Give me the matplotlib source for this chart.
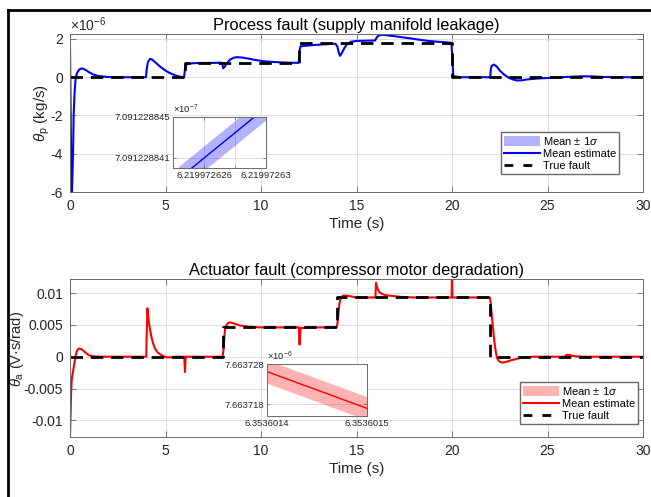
import numpy as np
import matplotlib
matplotlib.use("Agg")
import matplotlib.pyplot as plt
from matplotlib.lines import Line2D
from matplotlib.patches import Patch

plt.rcParams['font.family'] = ['Liberation Sans', 'DejaVu Sans']
plt.rcParams['mathtext.fontset'] = 'custom'
plt.rcParams['mathtext.rm'] = 'Liberation Sans'
plt.rcParams['mathtext.it'] = 'Liberation Sans:italic'
plt.rcParams['mathtext.bf'] = 'Liberation Sans:bold'
plt.rcParams['axes.unicode_minus'] = False

# ---------------- data: process fault (kg/s) ----------------
t_proc = [0, 0.03, 0.07, 0.1, 0.13, 0.16, 0.19, 0.24, 0.3, 0.38, 0.48, 0.6, 0.7, 0.85, 1.0,
          1.2, 1.5, 2.0, 3.0, 3.98, 4.02, 4.08, 4.19, 4.3, 4.5, 4.7, 4.95, 5.2, 5.5, 5.76,
          5.97, 6.02, 6.06, 6.12, 6.22, 6.4, 6.8, 7.5, 7.92, 7.97, 8.02, 8.1, 8.2, 8.38,
          8.55, 8.73, 9.0, 9.25, 9.6, 10.1, 10.6, 11.2, 11.97, 12.02, 12.07, 12.5, 13.0,
          13.5, 13.9, 14.0, 14.07, 14.14, 14.25, 14.38, 14.5, 14.7, 15.0, 15.5, 15.97,
          16.04, 16.12, 16.25, 16.4, 16.7, 17.1, 17.45, 17.9, 18.3, 18.75, 19.2, 19.6,
          19.97, 20.02, 20.07, 20.5, 21.0, 21.5, 22.0, 22.03, 22.08, 22.2, 22.35, 22.5,
          22.75, 23.0, 23.2, 23.4, 23.65, 23.9, 24.2, 24.6, 25.0, 25.3, 25.8, 26.3, 26.9,
          27.4, 28.0, 29.0, 30.0]
mean_proc_e6 = [1.55, -1.5, -5.2, -6.0, -5.0, -4.0, -2.0, -0.8, 0.0, 0.25, 0.4, 0.46, 0.44,
                0.36, 0.26, 0.15, 0.06, 0.01, 0.0, 0.0, 0.45, 0.8, 0.96, 0.92, 0.75, 0.57,
                0.38, 0.23, 0.1, 0.03, 0.0, 0.4, 0.62, 0.68, 0.709, 0.73, 0.745, 0.75, 0.76,
                0.72, 0.47, 0.55, 0.72, 0.92, 1.01, 1.05, 1.03, 0.99, 0.92, 0.84, 0.8, 0.77,
                0.75, 1.4, 1.62, 1.66, 1.7, 1.73, 1.75, 1.6, 1.3, 1.12, 1.3, 1.55, 1.72, 1.85,
                1.9, 1.91, 1.92, 2.05, 2.15, 2.21, 2.22, 2.18, 2.13, 2.08, 2.02, 1.96, 1.9,
                1.86, 1.83, 1.8, 0.9, 0.05, 0.0, 0.0, 0.0, 0.0, 0.4, 0.6, 0.66, 0.55, 0.35,
                0.12, -0.04, -0.12, -0.17, -0.16, -0.12, -0.09, -0.06, -0.04, -0.02, 0.0,
                0.03, 0.05, 0.04, 0.01, 0.0, 0.0]
sigma_proc = 1.2e-16
t_true_proc = [0, 6, 12, 20, 30]
true_proc_e6 = [0.0, 0.75, 1.8, 0.0, 0.0]

# inset (process)
inset_proc_t = [6.219972624, 6.21997263]
inset_proc_mean = [7.0912288385e-7, 7.0912288459e-7]
inset_proc_xlim = [6.219972624, 6.21997263]
inset_proc_ylim = [7.09122884e-7, 7.091228845e-7]
inset_proc_xticks = [6.219972626, 6.219972628, 6.21997263]
inset_proc_xlabels = ['6.219972626', '', '6.21997263']
inset_proc_yticks = [7.091228841e-7, 7.091228845e-7]
inset_proc_ylabels = ['7.091228841', '7.091228845']

# ---------------- data: actuator fault (V*s/rad) ----------------
t_act = [0, 0.03, 0.06, 0.09, 0.13, 0.17, 0.22, 0.26, 0.3, 0.35, 0.42, 0.49, 0.58, 0.7, 0.83,
         0.96, 1.1, 1.3, 1.6, 2.0, 3.0, 3.99, 4.02, 4.05, 4.09, 4.14, 4.2, 4.28, 4.36, 4.45,
         4.58, 4.71, 4.88, 5.06, 5.25, 5.5, 5.98, 6.0, 6.02, 6.04, 6.06, 7.0, 7.99, 8.04,
         8.08, 8.12, 8.2, 8.28, 8.38, 8.5, 8.7, 8.9, 9.15, 9.42, 10.0, 11.0, 11.98, 12.0,
         12.02, 12.04, 12.07, 13.0, 13.96, 14.0, 14.05, 14.1, 14.17, 14.3, 14.48, 14.66,
         15.0, 15.5, 15.99, 16.02, 16.07, 16.14, 16.22, 16.32, 16.48, 16.67, 17.0, 17.3,
         18.0, 19.0, 19.98, 20.0, 20.02, 21.0, 21.98, 22.02, 22.07, 22.13, 22.19, 22.25,
         22.31, 22.37, 22.44, 22.51, 22.6, 22.69, 22.85, 23.04, 23.3, 23.56, 23.9, 24.2,
         25.0, 25.9, 26.0, 26.1, 26.3, 26.5, 27.0, 28.0, 30.0]
mean_act = [-0.0126, -0.009, -0.0055, -0.0037, -0.0028, -0.0021, -0.0012, -0.0005, 0.0002,
            0.0008, 0.0012, 0.0013, 0.0012, 0.00095, 0.0006, 0.0003, 0.00012, 0.00003, 0.0,
            0.0, 0.0, 0.0, 0.004, 0.0076, 0.0065, 0.0052, 0.0041, 0.0029, 0.002, 0.0013,
            0.0007, 0.0004, 0.0001, -0.0001, -0.0001, 0.0, 0.0, -0.0012, -0.0024, -0.001,
            0.0, 0.0, 0.0, 0.0012, 0.003, 0.0044, 0.005, 0.0053, 0.0054, 0.0053, 0.0051,
            0.0049, 0.0048, 0.0047, 0.0046, 0.0046, 0.0046, 0.0032, 0.0019, 0.003, 0.0045,
            0.0046, 0.0046, 0.0052, 0.0066, 0.0082, 0.0092, 0.0096, 0.0096, 0.0095, 0.0093,
            0.0093, 0.0093, 0.0116, 0.011, 0.0104, 0.0101, 0.0099, 0.0097, 0.0096, 0.0095,
            0.0094, 0.0093, 0.0093, 0.0093, 0.0135, 0.0093, 0.0093, 0.0093, 0.0086, 0.0069,
            0.005, 0.0032, 0.0016, 0.0005, -0.0003, -0.0006, -0.0008, -0.0009, -0.0009,
            -0.0008, -0.0006, -0.0004, -0.0002, -0.0001, 0.0, 0.0, 0.0, 0.0003, 0.0003,
            0.00015, 0.00005, 0.0, 0.0, 0.0]
sigma_act = 2.9e-12
t_true_act = [0, 8, 14, 22, 30]
true_act = [0.0, 0.0046, 0.0093, 0.0, 0.0]

# inset (actuator)
inset_act_t = [6.3536014, 6.3536015]
inset_act_mean = [7.6637261e-6, 7.6637169e-6]
inset_act_xlim = [6.3536014, 6.3536015]
inset_act_ylim = [7.663715e-6, 7.663728e-6]
inset_act_xticks = [6.3536014, 6.3536015]
inset_act_xlabels = ['6.3536014', '6.3536015']
inset_act_yticks = [7.663718e-6, 7.663728e-6]
inset_act_ylabels = ['7.663718', '7.663728']

x_ticks = [0, 5, 10, 15, 20, 25, 30]
proc_yticks_e6 = [-6, -4, -2, 0, 2]
act_yticks = [-0.01, -0.005, 0, 0.005, 0.01]
act_ylabels = ['-0.01', '-0.005', '0', '0.005', '0.01']

# ---------------- figure ----------------
W, H = 651, 497
fig = plt.figure(figsize=(W / 100, H / 100), dpi=100)
fig.patch.set_facecolor('white')

def fx(px):
    return px / W

def fy(py):
    return 1 - py / H

TXT = '#262626'
EDGE = '#6a6a6a'
GRID = '#dedede'

def style_main(ax):
    ax.set_xlim(0, 30)
    ax.set_xticks(x_ticks)
    ax.grid(True, color=GRID, lw=0.7)
    ax.set_axisbelow(True)
    ax.tick_params(direction='in', top=True, right=True, length=4, width=0.6,
                   colors=EDGE, labelcolor=TXT, labelsize=10, pad=5)
    for s in ax.spines.values():
        s.set_color(EDGE)
        s.set_linewidth(0.7)

def style_inset(ax):
    ax.grid(True, color=GRID, lw=0.7)
    ax.set_axisbelow(True)
    ax.tick_params(direction='in', top=True, right=True, length=2.5, width=0.5,
                   colors=EDGE, labelcolor=TXT, labelsize=6.8, pad=2)
    for s in ax.spines.values():
        s.set_color(EDGE)
        s.set_linewidth(0.7)

def add_legend(ax, color, x_px, y_px):
    ax.legend(handles=[Patch(facecolor=color, alpha=0.3, edgecolor='none'),
                       Line2D([], [], color=color, lw=1.5),
                       Line2D([], [], color='black', lw=2, ls=(0, (3.2, 3.6)))],
              labels=['Mean ± 1$\\sigma$', 'Mean estimate', 'True fault'],
              loc='upper left', bbox_to_anchor=(fx(x_px), fy(y_px)),
              bbox_transform=fig.transFigure, fontsize=8, frameon=True, fancybox=False,
              edgecolor=EDGE, framealpha=1, borderaxespad=0, borderpad=0.25,
              handlelength=3.3, handleheight=1.0, handletextpad=0.25, labelspacing=0.12)

# ---- top axes ----
ax1 = fig.add_axes([fx(70), fy(192), fx(643) - fx(70), fy(34) - fy(192)])
tp = np.array(t_proc)
mp = np.array(mean_proc_e6) * 1e-6
ax1.fill_between(tp, mp - sigma_proc, mp + sigma_proc, color='blue', alpha=0.3, lw=0)
ax1.plot(tp, mp, color='blue', lw=1.5)
ax1.plot(t_true_proc, np.array(true_proc_e6) * 1e-6, color='black', lw=2,
         ls=(0, (4.5, 2.8)), drawstyle='steps-post')
style_main(ax1)
ax1.set_ylim(-6e-6, 2.26e-6)
ax1.set_yticks(np.array(proc_yticks_e6) * 1e-6)
ax1.set_yticklabels([str(v) for v in proc_yticks_e6])
ax1.text(0.0, 1.0, '×10$^{-6}$', transform=ax1.transAxes, ha='left', va='bottom',
         fontsize=10, color=TXT)
ax1.set_title('Process fault (supply manifold leakage)', fontsize=11.8, pad=3, color='black')
ax1.set_xlabel('Time (s)', fontsize=11, labelpad=3, color=TXT)
ax1.set_ylabel(r'$\theta_\mathrm{p}$ (kg/s)', fontsize=11, color=TXT)
ax1.yaxis.set_label_coords(-0.032, 0.5)
add_legend(ax1, 'blue', 501, 132)

# top inset
ax1i = fig.add_axes([fx(173), fy(168), fx(266) - fx(173), fy(116.7) - fy(168)])
it = np.array(inset_proc_t)
im = np.array(inset_proc_mean)
ax1i.fill_between(it, im - sigma_proc, im + sigma_proc, color='blue', alpha=0.3, lw=0)
ax1i.plot(it, im, color='blue', lw=1.0)
ax1i.set_xlim(inset_proc_xlim)
ax1i.set_ylim(inset_proc_ylim)
ax1i.set_xticks(inset_proc_xticks)
ax1i.set_xticklabels(inset_proc_xlabels)
ax1i.set_yticks(inset_proc_yticks)
ax1i.set_yticklabels(inset_proc_ylabels)
style_inset(ax1i)
ax1i.text(0.0, 1.02, '×10$^{-7}$', transform=ax1i.transAxes, ha='left', va='bottom',
          fontsize=6.8, color=TXT)

# ---- bottom axes ----
ax2 = fig.add_axes([fx(70), fy(437), fx(643) - fx(70), fy(279) - fy(437)])
ta = np.array(t_act)
ma = np.array(mean_act)
ax2.fill_between(ta, ma - sigma_act, ma + sigma_act, color='red', alpha=0.3, lw=0)
ax2.plot(ta, ma, color='red', lw=1.5)
ax2.plot(t_true_act, true_act, color='black', lw=2, ls=(0, (4.5, 2.8)),
         drawstyle='steps-post')
style_main(ax2)
ax2.set_ylim(-0.0126, 0.0122)
ax2.set_yticks(act_yticks)
ax2.set_yticklabels(act_ylabels)
ax2.set_title('Actuator fault (compressor motor degradation)', fontsize=11.8, pad=3,
              color='black')
ax2.set_xlabel('Time (s)', fontsize=11, labelpad=3, color=TXT)
ax2.set_ylabel(r'$\theta_\mathrm{a}$ (V·s/rad)', fontsize=10.5, color=TXT)
ax2.yaxis.set_label_coords(-0.076, 0.56)
add_legend(ax2, 'red', 520, 382)

# bottom inset
ax2i = fig.add_axes([fx(267), fy(416), fx(367) - fx(267), fy(364) - fy(416)])
it2 = np.array(inset_act_t)
im2 = np.array(inset_act_mean)
ax2i.fill_between(it2, im2 - sigma_act, im2 + sigma_act, color='red', alpha=0.3, lw=0)
ax2i.plot(it2, im2, color='red', lw=1.0)
ax2i.set_xlim(inset_act_xlim)
ax2i.set_ylim(inset_act_ylim)
ax2i.set_xticks(inset_act_xticks)
ax2i.set_xticklabels(inset_act_xlabels)
ax2i.set_yticks(inset_act_yticks)
ax2i.set_yticklabels(inset_act_ylabels)
style_inset(ax2i)
ax2i.text(0.0, 1.02, '×10$^{-6}$', transform=ax2i.transAxes, ha='left', va='bottom',
          fontsize=6.8, color=TXT)

# outer frame (top and left edges visible)
fig.add_artist(Line2D([fx(7.5), 1.0], [fy(10), fy(10)], color='black', lw=2,
                      transform=fig.transFigure))
fig.add_artist(Line2D([fx(7.5), fx(7.5)], [fy(10), 0.0], color='black', lw=2,
                      transform=fig.transFigure))

fig.savefig('out.png', dpi=100)
